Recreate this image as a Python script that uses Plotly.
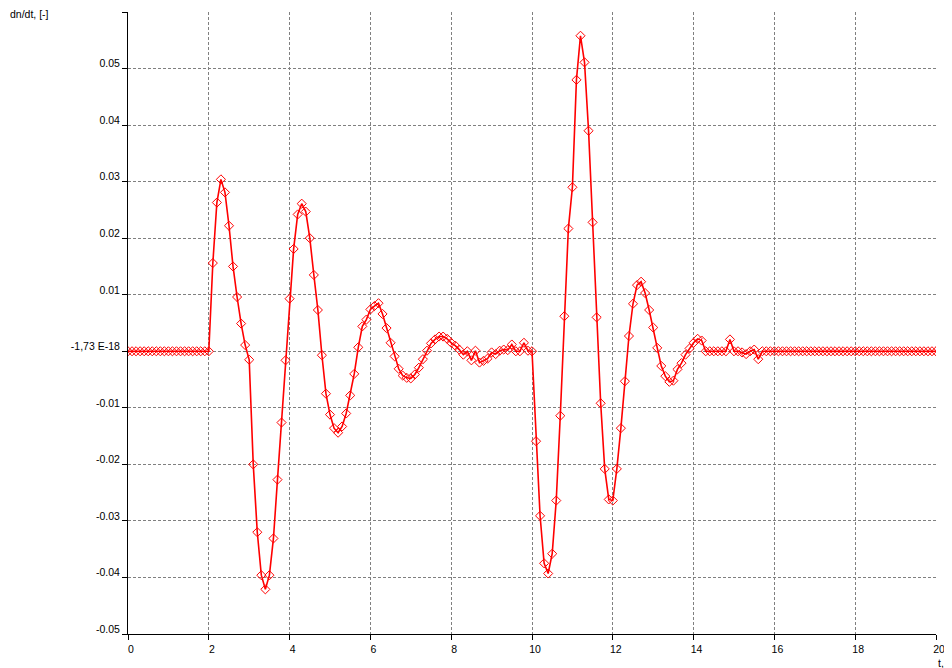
import plotly.graph_objects as go

# time grid, c
t = [round(i * 0.1, 1) for i in range(201)]

# dn/dt values, one per 0.1 c
dndt = [
    0.0, 0.0, 0.0, 0.0, 0.0, 0.0, 0.0, 0.0, 0.0, 0.0,
    0.0, 0.0, 0.0, 0.0, 0.0, 0.0, 0.0, 0.0, 0.0, 0.0,
    0.0, 0.0156, 0.0263, 0.0304, 0.0281, 0.0222, 0.0150, 0.0096, 0.0049, 0.0011,
    -0.0015, -0.0200, -0.0320, -0.0396, -0.0421, -0.0396, -0.0331, -0.0227, -0.0126, -0.0016,
    0.0093, 0.0181, 0.0242, 0.0261, 0.0247, 0.0200, 0.0135, 0.0073, -0.0007, -0.0075,
    -0.0112, -0.0136, -0.0144, -0.0133, -0.0110, -0.0078, -0.0040, 0.0007, 0.0044, 0.0056,
    0.0074, 0.0080, 0.0085, 0.0066, 0.0041, 0.0015, -0.0009, -0.0031, -0.0043, -0.0047,
    -0.0048, -0.0041, -0.0029, -0.0014, 0.0001, 0.0014, 0.0021, 0.0026, 0.0026, 0.0022,
    0.0015, 0.0010, 0.0003, -0.0006, 0.0000, -0.0016, 0.0001, -0.0020, -0.0017, -0.0013,
    -0.0002, -0.0005, 0.0001, 0.0003, 0.0002, 0.0012, 0.0000, 0.0000, 0.0015, 0.0001,
    0.0, -0.0159, -0.0291, -0.0375, -0.0393, -0.0358, -0.0264, -0.0114, 0.0062, 0.0217,
    0.0290, 0.0480, 0.0558, 0.0511, 0.0390, 0.0228, 0.0060, -0.0092, -0.0208, -0.0262,
    -0.0264, -0.0208, -0.0136, -0.0053, 0.0027, 0.0084, 0.0117, 0.0123, 0.0103, 0.0073,
    0.0042, 0.0006, -0.0026, -0.0044, -0.0054, -0.0052, -0.0032, -0.0021, -0.0006, 0.0005,
    0.0015, 0.0022, 0.0019, 0.0, 0.0, 0.0, 0.0, 0.0, 0.0, 0.0021,
    0.0, 0.0, -0.0002, -0.0005, 0.0, 0.0003, -0.0014, 0.0, 0.0, 0.0,
    0.0, 0.0, 0.0, 0.0, 0.0, 0.0, 0.0, 0.0, 0.0, 0.0,
    0.0, 0.0, 0.0, 0.0, 0.0, 0.0, 0.0, 0.0, 0.0, 0.0,
    0.0, 0.0, 0.0, 0.0, 0.0, 0.0, 0.0, 0.0, 0.0, 0.0,
    0.0, 0.0, 0.0, 0.0, 0.0, 0.0, 0.0, 0.0, 0.0, 0.0,
    0.0,
]

x_ticks = [0, 2, 4, 6, 8, 10, 12, 14, 16, 18, 20]
y_ticks = [-0.05, -0.04, -0.03, -0.02, -0.01, 0.0, 0.01, 0.02, 0.03, 0.04, 0.05, 0.06]
y_labels = ["-0.05", "-0.04", "-0.03", "-0.02", "-0.01", "-1,73 E-18",
            "0.01", "0.02", "0.03", "0.04", "0.05", ""]

FONT = dict(family="Liberation Sans, Arial, sans-serif", size=10.5, color="black")

fig = go.Figure()

fig.add_trace(go.Scatter(x=t, y=dndt,
                         mode="lines+markers",
                         line=dict(color="#ff0000", width=1.6),
                         marker=dict(symbol="diamond-open", size=7,
                                     color="#ff0000", line=dict(width=1)),
                         showlegend=False))

axis_common = dict(showline=True, linecolor="black", linewidth=1,
                   ticks="outside", ticklen=5, tickcolor="black",
                   showgrid=True, gridcolor="#808080", gridwidth=1,
                   griddash="3px,2px", zeroline=False, tickfont=FONT,
                   automargin=False)

fig.update_xaxes(range=[0, 20], tickvals=x_ticks,
                 ticktext=[str(v) for v in x_ticks],
                 ticklabelshift=3, ticklabeloverflow="allow", **axis_common)
fig.update_yaxes(range=[-0.05, 0.06], tickvals=y_ticks, ticktext=y_labels,
                 ticklabelposition="outside top", ticklabelstandoff=5,
                 ticklabelshift=3, **axis_common)

# page body has an 8px margin, so the figure is sized to fit inside it
fig.add_annotation(text="dn/dt, [-]", xref="paper", yref="paper",
                   x=-120 / 808, y=1, xanchor="left", yanchor="top",
                   yshift=6, showarrow=False, font=FONT)
fig.add_annotation(text="t, c", xref="paper", yref="paper",
                   x=1, y=0, xanchor="left", yanchor="top",
                   yshift=-21, showarrow=False, font=FONT)

fig.update_layout(width=944, height=660,
                  margin=dict(l=120, r=16, t=4, b=34, autoexpand=False),
                  paper_bgcolor="white", plot_bgcolor="white",
                  font=FONT)

fig.write_html("out.html")
